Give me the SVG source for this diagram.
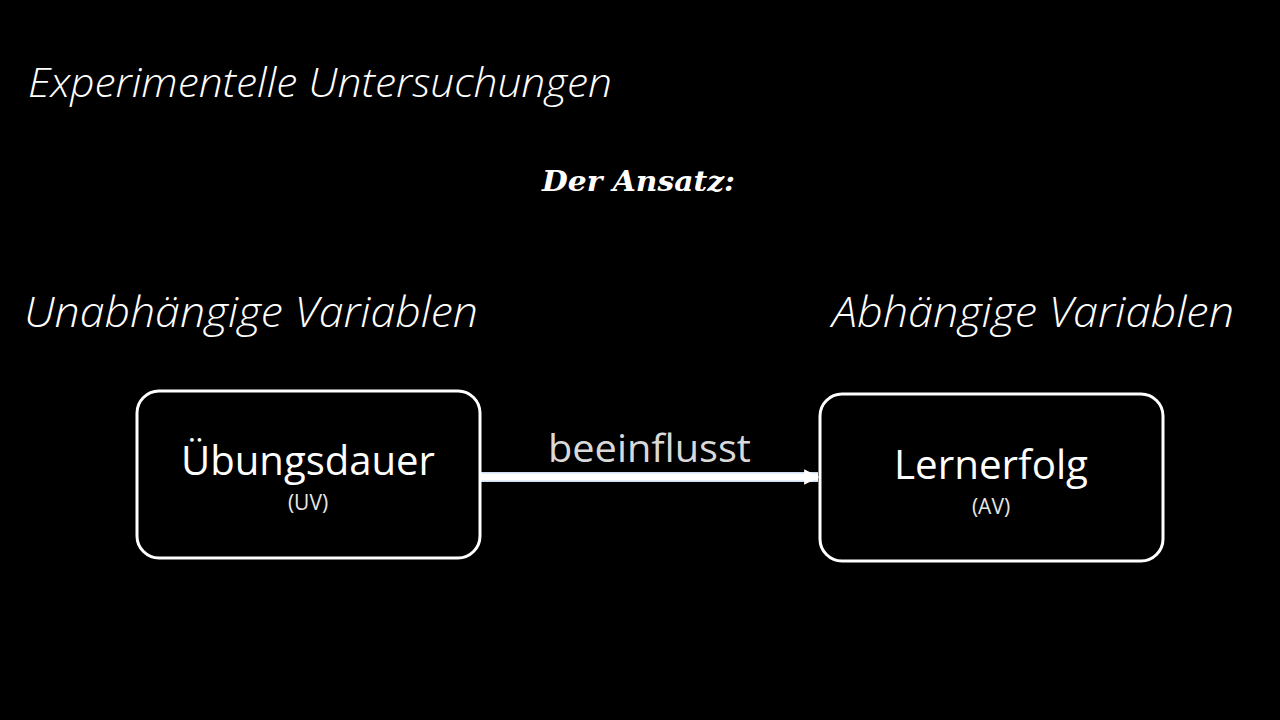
<svg xmlns="http://www.w3.org/2000/svg" width="1280" height="720" viewBox="0 0 1280 720">
<style>
.title{font-family:"Open Sans",sans-serif;font-style:italic;font-weight:300;fill:#fff}
.head{font-family:"DejaVu Serif","Liberation Serif",serif;font-style:italic;font-weight:bold;fill:#fff}
.box{fill:#000;stroke:#fff;stroke-width:3}
.main{font-family:"Open Sans","Noto Sans",sans-serif;fill:#fff;text-anchor:middle}
.sub{font-family:"Open Sans","Noto Sans",sans-serif;fill:#e6e6e6;text-anchor:middle}
</style>
<defs>
<marker id="ah" viewBox="0 0 10 10" refX="9" refY="5" markerWidth="2.2" markerHeight="3" orient="auto" markerUnits="strokeWidth">
<path d="M0,0 L10,5 L0,10 Z" fill="#fff"/>
</marker>
</defs>
<rect width="1280" height="720" fill="#000"/>
<text class="title" x="28" y="97" font-size="41" textLength="584" lengthAdjust="spacingAndGlyphs">Experimentelle Untersuchungen</text>
<text class="head" x="542" y="191" font-size="28" textLength="193" lengthAdjust="spacingAndGlyphs">Der Ansatz:</text>
<text class="title" x="24" y="327" font-size="43" textLength="454" lengthAdjust="spacingAndGlyphs">Unabhängige Variablen</text>
<text class="title" x="832" y="327" font-size="43" textLength="402" lengthAdjust="spacingAndGlyphs">Abhängige Variablen</text>
<g id="connectors">
<line x1="481" y1="477" x2="818" y2="477" stroke="#cfe0f5" stroke-width="10"/>
<line x1="481" y1="477" x2="818" y2="477" stroke="#fff" stroke-width="7" marker-end="url(#ah)"/>
<text x="649.5" y="462" font-family="Open Sans,Noto Sans,sans-serif" font-size="39" fill="#d9d9d9" text-anchor="middle" textLength="203" lengthAdjust="spacingAndGlyphs">beeinflusst</text>
</g>
<g id="uv">
<rect class="box" x="137" y="391" width="343" height="167" rx="22"/>
<text class="main" x="308" y="475" font-size="40" textLength="254" lengthAdjust="spacingAndGlyphs">Übungsdauer</text>
<text class="sub" x="308" y="510" font-size="21">(UV)</text>
</g>
<g id="av">
<rect class="box" x="820" y="394" width="343" height="167" rx="22"/>
<text class="main" x="991" y="479" font-size="40" textLength="194" lengthAdjust="spacingAndGlyphs">Lernerfolg</text>
<text class="sub" x="991" y="514" font-size="21">(AV)</text>
</g>
</svg>
